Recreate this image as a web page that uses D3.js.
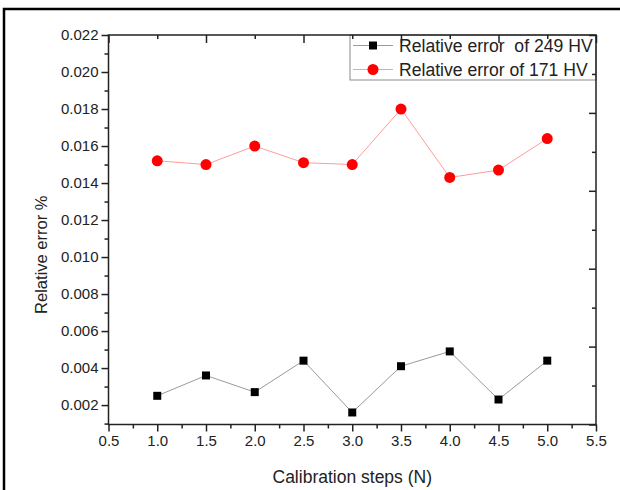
<!DOCTYPE html>
<html>
<head>
<meta charset="utf-8">
<script src="https://cdn.jsdelivr.net/npm/d3@7"></script>
<style>
    body { margin: 0; background: #fff; }
    svg { display: block; font-family: "Liberation Sans", Arial, sans-serif; }
</style>
</head>
<body>
<div id="chart"></div>
<script>

//// DATA

// Calibration steps (N)
var calibSteps = [1.0, 1.5, 2.0, 2.5, 3.0, 3.5, 4.0, 4.5, 5.0];
// Relative error of 249 HV (black squares)
var err249 = [0.0025, 0.0036, 0.0027, 0.0044, 0.0016, 0.0041, 0.0049, 0.0023, 0.0044];
// Relative error of 171 HV (red circles)
var err171 = [0.0152, 0.0150, 0.0160, 0.0151, 0.0150, 0.0180, 0.0143, 0.0147, 0.0164];
// Tick values
var xTicks = [0.5, 1.0, 1.5, 2.0, 2.5, 3.0, 3.5, 4.0, 4.5, 5.0, 5.5];
var yTicks = [0.002, 0.004, 0.006, 0.008, 0.010, 0.012, 0.014, 0.016, 0.018, 0.020, 0.022];
// Legend labels
var legendLabels = ["Relative error  of 249 HV", "Relative error of 171 HV"];


//// MAIN

var width = 620, height = 490;
var plotLeft = 108.5, plotRight = 596, plotTop = 35, plotBottom = 424.5;
var axisColor = "#222";

var svg = d3.select("#chart").append("svg")
    .attr("width", width)
    .attr("height", height);

// Scales
var x = d3.scaleLinear().domain([0.5, 5.5]).range([plotLeft, plotRight]);
var y = d3.scaleLinear().domain([0.00095, 0.022]).range([plotBottom, plotTop]);
// The mirrored right axis in the original is not aligned with the left one
var yRight = d3.scaleLinear().domain([0, 10]).range([plotBottom, plotTop]);

// Outer frame (only top and left are visible)
svg.append("path")
    .attr("d", "M4,490 L4,9 L620,9")
    .attr("fill", "none")
    .attr("stroke", "#000")
    .attr("stroke-width", 2.5);

// Series
drawSeries(err249, "#9a9a9a", "#000", "square");
drawSeries(err171, "#ff9c9c", "#ff0000", "circle");

// Legend
drawLegend();

// Axes
drawAxes();

// Axis titles
svg.append("text")
    .attr("x", (plotLeft + plotRight) / 2)
    .attr("y", 483)
    .attr("text-anchor", "middle")
    .attr("font-size", "17.5px")
    .attr("fill", axisColor)
    .text("Calibration steps (N)");

svg.append("text")
    .attr("transform", "translate(47," + ((plotTop + plotBottom) / 2 + 25) + ") rotate(-90)")
    .attr("text-anchor", "middle")
    .attr("font-size", "16.5px")
    .attr("fill", axisColor)
    .text("Relative error %");


//// FUNCTIONS

///////////////////////////////////////////////////
// Draws one line with its markers
function drawSeries(values, lineColor, markColor, shape){
///////////////////////////////////////////////////

    var pts = calibSteps.map(function(d, i){ return [d, values[i]]; });

    var line = d3.line()
        .x(function(d){ return x(d[0]); })
        .y(function(d){ return y(d[1]); });

    svg.append("path")
        .datum(pts)
        .attr("d", line)
        .attr("fill", "none")
        .attr("stroke", lineColor)
        .attr("stroke-width", 1);

    var sym = shape == "square" ? d3.symbolSquare : d3.symbolCircle;
    var size = shape == "square" ? 64 : 95;

    svg.append("g").selectAll("path")
        .data(pts)
        .enter()
        .append("path")
        .attr("transform", function(d){ return "translate(" + x(d[0]) + "," + y(d[1]) + ")"; })
        .attr("d", d3.symbol().type(sym).size(size))
        .attr("fill", markColor);
}


///////////////////////////////////////////////////
// Legend box in the top right corner
function drawLegend(){
///////////////////////////////////////////////////

    var lx = 350, ly = plotTop, lw = plotRight - 350, lh = 45;

    var g = svg.append("g");
    g.append("rect")
        .attr("x", lx).attr("y", ly)
        .attr("width", lw).attr("height", lh)
        .attr("fill", "#fff")
        .attr("stroke", "#8a8a8a")
        .attr("stroke-width", 1);

    var rows = [
        {label: legendLabels[0], line: "#9a9a9a", mark: "#000", sym: d3.symbolSquare, size: 64, yy: 45.5},
        {label: legendLabels[1], line: "#ff9c9c", mark: "#ff0000", sym: d3.symbolCircle, size: 95, yy: 69.5}
    ];

    rows.forEach(function(r){
        g.append("line")
            .attr("x1", 353).attr("x2", 393)
            .attr("y1", r.yy).attr("y2", r.yy)
            .attr("stroke", r.line)
            .attr("stroke-width", 1);
        g.append("path")
            .attr("transform", "translate(373," + r.yy + ")")
            .attr("d", d3.symbol().type(r.sym).size(r.size))
            .attr("fill", r.mark);
        g.append("text")
            .attr("x", 399)
            .attr("y", r.yy + 6.5)
            .attr("font-size", "17.6px")
            .attr("fill", axisColor)
            .style("white-space", "pre")
            .text(r.label);
    });
}


///////////////////////////////////////////////////
// Draws the four axes with major and minor ticks
function drawAxes(){
///////////////////////////////////////////////////

    var xMinor = d3.range(0.75, 5.5, 0.5);
    var yMinor = d3.range(0.001, 0.0215, 0.002);

    // Bottom axis
    addAxis(d3.axisBottom(x).tickValues(xTicks).tickSize(7).tickPadding(4)
        .tickFormat(d3.format(".1f")), "translate(0," + plotBottom + ")", true);
    addAxis(d3.axisBottom(x).tickValues(xMinor).tickSize(4).tickFormat(""),
        "translate(0," + plotBottom + ")", false);

    // Left axis
    addAxis(d3.axisLeft(y).tickValues(yTicks).tickSize(7).tickPadding(3)
        .tickFormat(d3.format(".3f")), "translate(" + plotLeft + ",0)", true);
    addAxis(d3.axisLeft(y).tickValues(yMinor).tickSize(4).tickFormat(""),
        "translate(" + plotLeft + ",0)", false);

    // Top axis, ticks pointing inward
    addAxis(d3.axisBottom(x).tickValues([0.5, 1.5, 2.5, 3.5, 4.5, 5.5]).tickSize(8).tickFormat(""),
        "translate(0," + plotTop + ")", false);
    addAxis(d3.axisBottom(x).tickValues([1, 2, 3, 4, 5]).tickSize(4).tickFormat(""),
        "translate(0," + plotTop + ")", false);

    // Right axis, ticks pointing inward
    addAxis(d3.axisLeft(yRight).tickValues([0, 2, 4, 6, 8, 10]).tickSize(7).tickFormat(""),
        "translate(" + plotRight + ",0)", false);
    addAxis(d3.axisLeft(yRight).tickValues([1, 3, 5, 7, 9]).tickSize(4).tickFormat(""),
        "translate(" + plotRight + ",0)", false);

    // Frame of the plot area
    svg.append("rect")
        .attr("x", plotLeft).attr("y", plotTop)
        .attr("width", plotRight - plotLeft)
        .attr("height", plotBottom - plotTop)
        .attr("fill", "none")
        .attr("stroke", axisColor)
        .attr("stroke-width", 1.5);
}


///////////////////////////////////////////////////
// Adds one axis group and styles it
function addAxis(axis, transform, withLabels){
///////////////////////////////////////////////////

    var g = svg.append("g")
        .attr("transform", transform)
        .call(axis);

    g.select(".domain").remove();
    g.selectAll(".tick line")
        .attr("stroke", axisColor)
        .attr("stroke-width", 1.5);

    if (withLabels){
        g.selectAll(".tick text")
            .attr("font-size", "15px")
            .attr("font-family", "'Liberation Sans', Arial, sans-serif")
            .attr("fill", axisColor);
    }
}

</script>
</body>
</html>
